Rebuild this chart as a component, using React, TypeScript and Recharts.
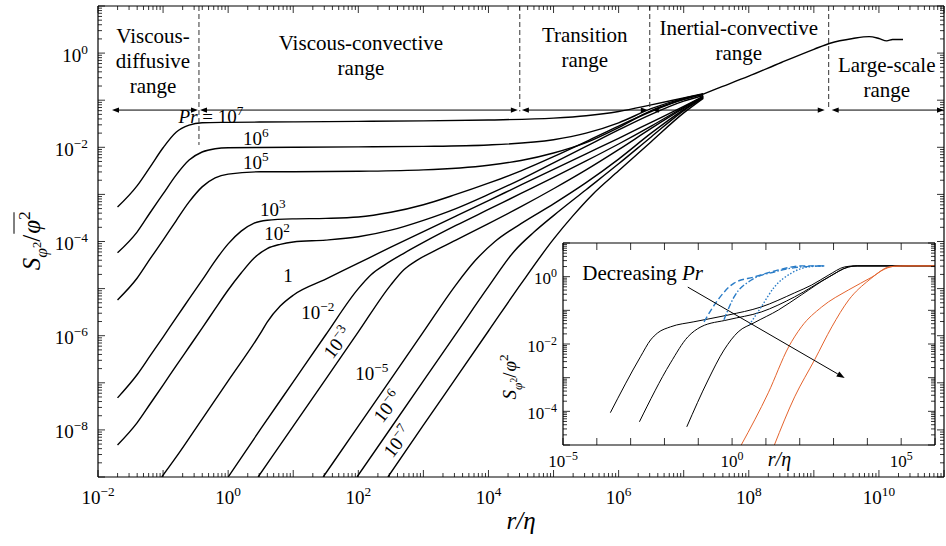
import React from 'react';
import { LineChart, Line, XAxis, YAxis, ReferenceLine, ReferenceDot, CartesianGrid } from 'recharts';

const SERIF = '"Liberation Serif", "Times New Roman", serif';

type Pt = { x: number; y: number };
// curves are listed in decades: [log10(r/eta), log10(S)]
const fromDecades = (rows: number[][]): Pt[] => rows.map(([lx, ly]) => ({ x: 10 ** lx, y: 10 ** ly }));

// ---- main panel: one curve per Prandtl number ----
const pr1e7 = fromDecades([[-1.7, -3.27], [-1.4, -2.82], [-1.2, -2.42], [-1.0, -2.01], [-0.8, -1.68], [-0.6, -1.53], [-0.4, -1.48], [0, -1.47], [1, -1.46], [2, -1.45], [3, -1.44], [4, -1.42], [5, -1.38], [5.5, -1.33], [6, -1.24], [6.5, -1.1], [7, -0.95], [7.3, -0.86]]);
const pr1e6 = fromDecades([[-1.7, -4.24], [-1.4, -3.8], [-1.2, -3.39], [-1, -2.99], [-0.8, -2.59], [-0.6, -2.27], [-0.4, -2.1], [-0.2, -2.03], [0, -2.01], [1, -2.0], [2, -1.99], [3, -1.98], [4, -1.95], [5, -1.84], [5.5, -1.7], [6, -1.48], [6.5, -1.18], [7, -0.96], [7.3, -0.87]]);
const pr1e5 = fromDecades([[-1.7, -5.24], [-1.4, -4.78], [-1.2, -4.37], [-1, -3.97], [-0.8, -3.56], [-0.6, -3.16], [-0.4, -2.84], [-0.2, -2.65], [0, -2.57], [0.5, -2.52], [1, -2.52], [2, -2.51], [3, -2.48], [4, -2.38], [4.5, -2.28], [5, -2.12], [5.5, -1.9], [6, -1.58], [6.5, -1.22], [7, -0.98], [7.3, -0.87]]);
const pr1e3 = fromDecades([[-1.7, -7.32], [-1.4, -6.83], [-1.2, -6.43], [-1, -6.03], [-0.8, -5.62], [-0.6, -5.22], [-0.4, -4.82], [-0.2, -4.41], [0, -4.05], [0.2, -3.78], [0.4, -3.61], [0.6, -3.55], [1, -3.52], [1.5, -3.51], [2, -3.48], [2.5, -3.38], [3, -3.22], [3.5, -3.0], [4, -2.76], [4.5, -2.5], [5, -2.2], [5.5, -1.88], [6, -1.55], [6.5, -1.24], [7, -0.98], [7.3, -0.88]]);
const pr1e2 = fromDecades([[-1.7, -8.32], [-1.4, -7.85], [-1.2, -7.45], [-1, -7.05], [-0.8, -6.64], [-0.6, -6.24], [-0.4, -5.84], [-0.2, -5.43], [0, -5.03], [0.2, -4.67], [0.4, -4.35], [0.6, -4.15], [0.8, -4.06], [1, -4.01], [1.5, -3.97], [2, -3.9], [2.5, -3.76], [3, -3.55], [3.5, -3.3], [4, -3.0], [4.5, -2.68], [5, -2.33], [5.5, -1.98], [6, -1.63], [6.5, -1.3], [7, -1.02], [7.3, -0.9]]);
const pr1 = fromDecades([[-1.02, -9], [-0.8, -8.58], [-0.4, -7.77], [0, -6.96], [0.5, -5.94], [0.6, -5.71], [0.8, -5.37], [1, -5.14], [1.5, -4.8], [2, -4.46], [2.5, -4.12], [3, -3.79], [3.5, -3.46], [4, -3.13], [4.5, -2.8], [5, -2.47], [5.5, -2.14], [6, -1.81], [6.5, -1.47], [7, -1.13], [7.3, -0.92]]);
const pr1em2 = fromDecades([[0, -9], [0.5, -7.98], [1, -6.98], [1.5, -5.98], [2, -5.0], [2.2, -4.7], [2.4, -4.5], [2.7, -4.25], [3, -4.02], [3.5, -3.66], [4, -3.32], [4.5, -2.98], [5, -2.64], [5.5, -2.29], [6, -1.93], [6.5, -1.55], [7, -1.15], [7.3, -0.92]]);
const pr1em3 = fromDecades([[0.46, -9], [1, -7.92], [1.5, -6.92], [2, -5.92], [2.5, -4.92], [2.7, -4.6], [2.9, -4.4], [3.2, -4.18], [3.5, -3.97], [4, -3.62], [4.5, -3.26], [5, -2.88], [5.5, -2.48], [6, -2.05], [6.5, -1.6], [7, -1.17], [7.3, -0.93]]);
const pr1em5 = fromDecades([[1.46, -9], [2, -7.92], [2.5, -6.92], [3, -5.92], [3.5, -4.92], [3.8, -4.4], [4.1, -4.0], [4.5, -3.62], [5, -3.2], [5.5, -2.75], [6, -2.25], [6.5, -1.7], [7, -1.2], [7.3, -0.94]]);
const pr1em6 = fromDecades([[1.98, -9], [2.5, -7.96], [3, -6.96], [3.5, -5.96], [4, -4.96], [4.4, -4.2], [4.7, -3.8], [5, -3.45], [5.5, -2.9], [6, -2.35], [6.5, -1.78], [7, -1.22], [7.3, -0.95]]);
const pr1em7 = fromDecades([[2.455, -9], [3, -7.9], [3.5, -6.9], [4, -5.9], [4.5, -4.9], [5, -3.95], [5.3, -3.45], [5.6, -3.0], [6, -2.5], [6.5, -1.88], [7, -1.27], [7.3, -0.96]]);
// shared inertial / large-scale branch
const largeScale = fromDecades([[7.3, -0.87], [7.5, -0.76], [8, -0.49], [8.5, -0.2], [9, 0.08], [9.25, 0.21], [9.6, 0.31], [9.85, 0.35], [10.0, 0.31], [10.12, 0.26], [10.21, 0.29], [10.37, 0.29]]);

const mainCurves = [pr1e7, pr1e6, pr1e5, pr1e3, pr1e2, pr1, pr1em2, pr1em3, pr1em5, pr1em6, pr1em7, largeScale];

// curve labels: [log10 x, log10 y, exponent (null = "1"), rotation]
const prLabels: [number, number, number | null, number][] = [
  [0.427, -1.824, 6, 0], [0.427, -2.333, 5, 0], [0.688, -3.331, 3, 0], [0.75, -3.841, 2, 0],
  [0.919, -4.732, null, 0], [1.379, -5.518, -2, 0], [1.687, -6.155, -3, -52], [2.209, -6.813, -5, 0],
  [2.455, -7.514, -6, -52], [2.608, -8.257, -7, -52],
];
const prTopLabel = [-0.264, -1.357];

// regime boundaries and names
const rangeBounds = [0.356, 3.03e4, 3.01e6, 1.69e9];
const boundBottoms = [0.0112, 0.058, 0.062, 0.066];
const rangeSpans = [[0.0164, 0.344], [0.369, 2.83e4], [3.26e4, 2.81e6], [3.24e6, 1.47e9], [1.88e9, 1e11]];
const arrowLevel = 0.0617;
const rangeNames = [
  { lx: -1.155, ly: 0.214, lines: ['Viscous-', 'diffusive', 'range'] },
  { lx: 2.04, ly: 0.066, lines: ['Viscous-convective', 'range'] },
  { lx: 5.48, ly: 0.236, lines: ['Transition', 'range'] },
  { lx: 7.846, ly: 0.384, lines: ['Inertial-convective', 'range'] },
  { lx: 10.12, ly: -0.401, lines: ['Large-scale', 'range'] },
];

// ---- inset ----
const insetBlack1 = fromDecades([[-3.6, -4.04], [-2.71, -2.38], [-2.41, -1.88], [-2.2, -1.67], [-1.82, -1.49], [-1.13, -1.34], [-0.12, -1.14], [0.86, -0.9], [1.85, -0.48], [2.35, -0.25], [2.86, 0.05], [3.33, 0.29], [3.63, 0.32], [6, 0.32]]);
const insetBlack2 = fromDecades([[-2.74, -4.31], [-1.82, -2.56], [-1.31, -1.79], [-0.92, -1.49], [-0.12, -1.28], [0.86, -1.05], [1.85, -0.6], [2.86, -0.01], [3.45, 0.29], [3.7, 0.32], [6, 0.32]]);
const insetBlack3 = fromDecades([[-1.34, -4.46], [-0.71, -3.07], [-0.24, -2.18], [0.18, -1.64], [0.65, -1.37], [1.37, -0.99], [2.05, -0.54], [2.86, -0.01], [3.45, 0.29], [3.7, 0.32], [6, 0.32]]);
const insetOrange1 = fromDecades([[0.27, -5], [1.07, -3.45], [1.67, -2.09], [2.05, -1.49], [2.65, -0.9], [3.45, -0.39], [4.14, -0.01], [4.64, 0.29], [5, 0.32], [6, 0.32]]);
const insetOrange2 = fromDecades([[1.25, -5], [1.85, -3.57], [2.44, -2.47], [2.95, -1.49], [3.45, -0.69], [4.05, -0.1], [4.52, 0.23], [4.82, 0.31], [5.2, 0.32], [6, 0.32]]);
const insetBlueDash = fromDecades([[-0.83, -1.34], [-0.42, -0.69], [0.06, -0.19], [0.65, -0.01], [1.37, 0.2], [2.05, 0.32], [2.74, 0.32]]);
const insetBlueDashDot = fromDecades([[-0.24, -1.28], [0.06, -0.6], [0.57, -0.1], [1.25, 0.14], [2.05, 0.29], [2.74, 0.32]]);
const insetBlueDot = fromDecades([[0.51, -1.43], [0.86, -0.9], [1.25, -0.31], [1.76, 0.11], [2.26, 0.29], [2.74, 0.32]]);
const insetArrow = [[-1.31, -0.31], [3.33, -3.01]];

const BLUE = '#2a7cc7';
const ORANGE = '#e4632d';

const insetCurves = [
  { data: insetBlack1, color: '#000', dash: undefined },
  { data: insetBlack2, color: '#000', dash: undefined },
  { data: insetBlack3, color: '#000', dash: undefined },
  { data: insetOrange1, color: ORANGE, dash: undefined },
  { data: insetOrange2, color: ORANGE, dash: undefined },
  { data: insetBlueDash, color: BLUE, dash: '6 3' },
  { data: insetBlueDashDot, color: BLUE, dash: '6 2 1.5 2' },
  { data: insetBlueDot, color: BLUE, dash: '1.5 1.8' },
];

// ---- ticks ----
const MINOR = [2, 3, 4, 5, 6, 7, 8, 9];
const logTicks = (lo: number, hi: number, minor: boolean) => {
  const out: number[] = [];
  for (let e = lo; e <= hi; e++) {
    out.push(10 ** e);
    if (minor && e < hi) MINOR.forEach((m) => out.push(m * 10 ** e));
  }
  return out;
};
const mainXTicks = logTicks(-2, 11, true);
const mainYTicks = logTicks(-9, 1, true);
const insetXTicks = logTicks(-5, 6, false);
const insetYTicks = logTicks(-5, 1, true);

const tenTo = (e: number, size: number) => [
  <tspan key="b">10</tspan>,
  <tspan key="e" dy={-size * 0.42} fontSize={size * 0.7}>{e < 0 ? `\u2212${-e}` : `${e}`}</tspan>,
];

function LogTick(props: any) {
  const { x, y, payload, side, labels, font, gap } = props;
  const lg = Math.log10(payload.value);
  const e = Math.round(lg);
  const isMajor = Math.abs(lg - e) < 1e-6;
  const len = isMajor ? 7 : 4;
  let ln: number[];
  if (side === 'bottom') ln = [x, y, x, y - len];
  else if (side === 'top') ln = [x, y, x, y + len];
  else if (side === 'left') ln = [x, y, x + len, y];
  else ln = [x, y, x - len, y];
  const show = isMajor && labels && labels.includes(e);
  return (
    <g>
      <line x1={ln[0]} y1={ln[1]} x2={ln[2]} y2={ln[3]} stroke="#000" strokeWidth={0.8} />
      {show && side === 'bottom' && (
        <text x={x} y={y + gap} textAnchor="middle" fontFamily={SERIF} fontSize={font} fill="#000">{tenTo(e, font)}</text>
      )}
      {show && side === 'left' && (
        <text x={x - gap} y={y + font * 0.45} textAnchor="end" fontFamily={SERIF} fontSize={font} fill="#000">{tenTo(e, font)}</text>
      )}
    </g>
  );
}

// S_{phi^2} / overline{phi^2}, written bottom-to-top
function StructureLabel({ cx, cy, size }: { cx: number; cy: number; size: number }) {
  const pivot = size * 0.27;
  return (
    <g transform={`translate(${cx},${cy}) rotate(-90)`} fontFamily={SERIF} fill="#000">
      <text x={pivot} y={size * 0.33} textAnchor="end" fontSize={size}>
        <tspan fontStyle="italic">S</tspan>
        <tspan fontStyle="italic" fontSize={size * 0.7} dy={size * 0.28}>φ</tspan>
        <tspan fontSize={size * 0.5} dy={-size * 0.25}>2</tspan>
        <tspan dy={-size * 0.03}>/</tspan>
      </text>
      <text x={pivot + 1} y={size * 0.33} textAnchor="start" fontSize={size}>
        <tspan fontStyle="italic">φ</tspan>
        <tspan fontSize={size * 0.7} dy={-size * 0.42}>2</tspan>
      </text>
      <line x1={pivot + 1} x2={pivot + size * 0.9} y1={-size * 0.72} y2={-size * 0.72} stroke="#000" strokeWidth={1} />
    </g>
  );
}

const RatioLabel = ({ x, y, size }: { x: number; y: number; size: number }) => (
  <text x={x} y={y} textAnchor="middle" fontFamily={SERIF} fontSize={size} fontStyle="italic" fill="#000">
    r/η
  </text>
);

function DoubleArrow(p: any) {
  const { x1, y1, x2, y2 } = p;
  return (
    <g>
      <line x1={x1 + 3} y1={y1} x2={x2 - 3} y2={y2} stroke="#000" strokeWidth={1} />
      <path d={`M${x1},${y1} l7,-2.6 l0,5.2 z`} fill="#000" />
      <path d={`M${x2},${y2} l-7,-2.6 l0,5.2 z`} fill="#000" />
    </g>
  );
}

function PointerArrow(p: any) {
  const { x1, y1, x2, y2 } = p;
  const a = Math.atan2(y2 - y1, x2 - x1);
  const h = 8;
  const w = 3;
  const bx = x2 - h * Math.cos(a);
  const by = y2 - h * Math.sin(a);
  const nx = -Math.sin(a) * w;
  const ny = Math.cos(a) * w;
  return (
    <g>
      <line x1={x1} y1={y1} x2={bx} y2={by} stroke="#000" strokeWidth={1} />
      <path d={`M${x2},${y2} L${bx + nx},${by + ny} L${bx - nx},${by - ny} Z`} fill="#000" />
    </g>
  );
}

const axisCommon = {
  type: 'number' as const,
  scale: 'log' as const,
  allowDataOverflow: true,
  interval: 0 as const,
  tickLine: false,
  tickSize: 0,
  tickMargin: 0,
  axisLine: { stroke: '#000', strokeWidth: 1.2 },
};

function MainPanel() {
  const xd: [number, number] = [1e-2, 1e11];
  const yd: [number, number] = [1e-9, 10];
  return (
    <LineChart width={946} height={546} margin={{ top: 5, right: 1, bottom: 0, left: 0 }}>
      <XAxis {...axisCommon} xAxisId="b" dataKey="x" domain={xd} ticks={mainXTicks} height={69}
        tick={(p: any) => <LogTick {...p} side="bottom" labels={[-2, 0, 2, 4, 6, 8, 10]} font={19} gap={27} />} />
      <XAxis {...axisCommon} xAxisId="t" orientation="top" dataKey="x" domain={xd} ticks={mainXTicks} height={1}
        tick={(p: any) => <LogTick {...p} side="top" />} />
      <YAxis {...axisCommon} yAxisId="l" domain={yd} ticks={mainYTicks} width={98}
        tick={(p: any) => <LogTick {...p} side="left" labels={[0, -2, -4, -6, -8]} font={19} gap={10} />} />
      <YAxis {...axisCommon} yAxisId="r" orientation="right" domain={yd} ticks={mainYTicks} width={1}
        tick={(p: any) => <LogTick {...p} side="right" />} />

      {mainCurves.map((c, i) => (
        <Line key={i} xAxisId="b" yAxisId="l" data={c} dataKey="y" type="monotone" dot={false}
          stroke="#000" strokeWidth={1.4} isAnimationActive={false} />
      ))}

      {rangeBounds.map((b, i) => (
        <ReferenceLine key={`b${i}`} xAxisId="b" yAxisId="l" ifOverflow="visible"
          segment={[{ x: b, y: 10 }, { x: b, y: boundBottoms[i] }]}
          stroke="#333" strokeWidth={1} strokeDasharray="5 3" />
      ))}
      {rangeSpans.map(([a, b], i) => (
        <ReferenceLine key={`s${i}`} xAxisId="b" yAxisId="l" ifOverflow="visible"
          segment={[{ x: a, y: arrowLevel }, { x: b, y: arrowLevel }]} shape={DoubleArrow} />
      ))}
      {rangeNames.map((r, i) => (
        <ReferenceDot key={`n${i}`} xAxisId="b" yAxisId="l" x={10 ** r.lx} y={10 ** r.ly} r={0} ifOverflow="visible"
          shape={(p: any) => (
            <text x={p.cx} y={p.cy} textAnchor="middle" fontFamily={SERIF} fontSize={21} fill="#000">
              {r.lines.map((t, k) => (
                <tspan key={k} x={p.cx} dy={k === 0 ? 0 : 25}>{t}</tspan>
              ))}
            </text>
          )} />
      ))}

      <ReferenceDot xAxisId="b" yAxisId="l" x={10 ** prTopLabel[0]} y={10 ** prTopLabel[1]} r={0} ifOverflow="visible"
        shape={(p: any) => (
          <text x={p.cx} y={p.cy + 6} textAnchor="middle" fontFamily={SERIF} fontSize={19} fill="#000">
            <tspan fontStyle="italic">Pr</tspan>
            <tspan> = </tspan>
            {tenTo(7, 19)}
          </text>
        )} />
      {prLabels.map(([lx, ly, e, rot], i) => (
        <ReferenceDot key={`p${i}`} xAxisId="b" yAxisId="l" x={10 ** lx} y={10 ** ly} r={0} ifOverflow="visible"
          shape={(p: any) => (
            <text x={p.cx} y={p.cy + 6} textAnchor="middle" fontFamily={SERIF} fontSize={19} fill="#000"
              transform={rot ? `rotate(${rot},${p.cx},${p.cy})` : undefined}>
              {e === null ? '1' : tenTo(e, 19)}
            </text>
          )} />
      ))}

      <ReferenceDot xAxisId="b" yAxisId="l" x={10 ** 4.5} y={1e-9} r={0} ifOverflow="visible"
        shape={(p: any) => <RatioLabel x={p.cx} y={p.cy + 52} size={25} />} />
      <ReferenceDot xAxisId="b" yAxisId="l" x={1e-2} y={10 ** -4} r={0} ifOverflow="visible"
        shape={(p: any) => <StructureLabel cx={p.cx - 66} cy={p.cy} size={25} />} />
    </LineChart>
  );
}

function InsetPanel() {
  const xd: [number, number] = [1e-5, 1e6];
  const yd: [number, number] = [1e-5, 10];
  return (
    <LineChart width={440} height={250} margin={{ top: 12, right: 1, bottom: 0, left: 0 }}>
      <CartesianGrid xAxisId="b" yAxisId="l" horizontal={false} vertical={false} fill="#fff" />
      <XAxis {...axisCommon} xAxisId="b" dataKey="x" domain={xd} ticks={insetXTicks} height={35}
        tick={(p: any) => <LogTick {...p} side="bottom" labels={[-5, 0, 5]} font={17} gap={22} />} />
      <XAxis {...axisCommon} xAxisId="t" orientation="top" dataKey="x" domain={xd} ticks={insetXTicks} height={1}
        tick={(p: any) => <LogTick {...p} side="top" />} />
      <YAxis {...axisCommon} yAxisId="l" domain={yd} ticks={insetYTicks} width={66}
        tick={(p: any) => <LogTick {...p} side="left" labels={[0, -2, -4]} font={17} gap={6} />} />
      <YAxis {...axisCommon} yAxisId="r" orientation="right" domain={yd} ticks={insetYTicks} width={1}
        tick={(p: any) => <LogTick {...p} side="right" />} />

      {insetCurves.map((c, i) => (
        <Line key={i} xAxisId="b" yAxisId="l" data={c.data} dataKey="y" type="monotone" dot={false}
          stroke={c.color} strokeWidth={c.dash ? 1.4 : 1} strokeDasharray={c.dash} isAnimationActive={false} />
      ))}

      <ReferenceLine xAxisId="b" yAxisId="l" ifOverflow="visible"
        segment={[{ x: 10 ** insetArrow[0][0], y: 10 ** insetArrow[0][1] }, { x: 10 ** insetArrow[1][0], y: 10 ** insetArrow[1][1] }]}
        shape={PointerArrow} />
      <ReferenceDot xAxisId="b" yAxisId="l" x={10 ** -4.43} y={10 ** -0.1} r={0} ifOverflow="visible"
        shape={(p: any) => (
          <text x={p.cx} y={p.cy} fontFamily={SERIF} fontSize={21} fill="#000">
            Decreasing <tspan fontStyle="italic">Pr</tspan>
          </text>
        )} />
      <ReferenceDot xAxisId="b" yAxisId="l" x={10 ** 1.4} y={1e-5} r={0} ifOverflow="visible"
        shape={(p: any) => <RatioLabel x={p.cx} y={p.cy + 21} size={20} />} />
      <ReferenceDot xAxisId="b" yAxisId="l" x={1e-5} y={10 ** -3} r={0} ifOverflow="visible"
        shape={(p: any) => <StructureLabel cx={p.cx - 53} cy={p.cy} size={19} />} />
    </LineChart>
  );
}

export default function App() {
  return (
    <div style={{ position: 'absolute', left: 0, top: 0, width: 946, height: 546, background: '#fff', overflow: 'hidden' }}>
      <MainPanel />
      <div style={{ position: 'absolute', left: 497, top: 230 }}>
        <InsetPanel />
      </div>
    </div>
  );
}
